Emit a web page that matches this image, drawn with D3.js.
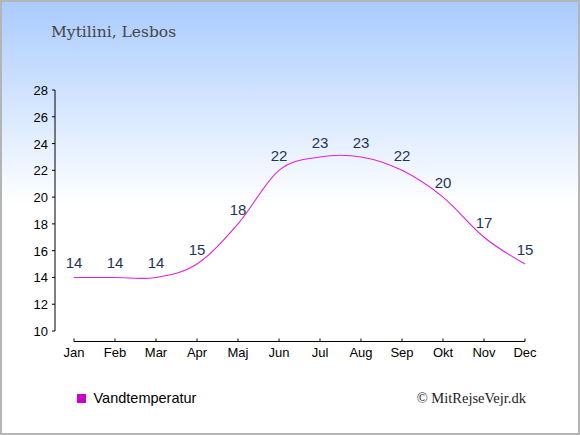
<!DOCTYPE html>
<html><head><meta charset="utf-8">
<script src="https://cdn.jsdelivr.net/npm/d3@7"></script>
<style>html,body{margin:0;padding:0;background:#fff;}svg{display:block;}</style>
</head><body>
<script>
const months = ["Jan","Feb","Mar","Apr","Maj","Jun","Jul","Aug","Sep","Okt","Nov","Dec"];
const waterTemp = [14,14,14,15,18,22,23,23,22,20,17,15];
const yTicks = [10,12,14,16,18,20,22,24,26,28];
const title = "Mytilini, Lesbos";
const legendLabel = "Vandtemperatur";
const credit = "© MitRejseVejr.dk";

const W = 580, H = 435;
const svg = d3.select("body").append("svg").attr("width", W).attr("height", H);
const defs = svg.append("defs");
const grad = defs.append("linearGradient").attr("id","bg").attr("x1",0).attr("y1",0).attr("x2",0).attr("y2",1);
grad.append("stop").attr("offset","0%").attr("stop-color","#a9cbff");
grad.append("stop").attr("offset","47%").attr("stop-color","#ffffff");
grad.append("stop").attr("offset","100%").attr("stop-color","#ffffff");
svg.append("rect").attr("x",0).attr("y",0).attr("width",W).attr("height",H).attr("fill","url(#bg)");
svg.append("rect").attr("x",1).attr("y",1).attr("width",W-2).attr("height",H-2).attr("fill","none").attr("stroke","#b4b4b4").attr("stroke-width",2);

svg.append("text").attr("x",51).attr("y",37).text(title)
  .attr("font-family","'DejaVu Serif', serif").attr("font-size",15.5).attr("fill","#444");

const x = d3.scalePoint().domain(months).range([74,525]);
const y = d3.scaleLinear().domain([10,28]).range([331,90]);

const sans = "Arial, 'Liberation Sans', sans-serif";

// y axis
const ya = svg.append("g").attr("transform","translate(55,0)");
ya.append("line").attr("y1",y(28)).attr("y2",y(10)).attr("stroke","#000");
yTicks.forEach(t=>{
  ya.append("line").attr("x1",-3).attr("x2",0).attr("y1",y(t)).attr("y2",y(t)).attr("stroke","#000");
  ya.append("text").attr("x",-7).attr("y",y(t)+5).attr("text-anchor","end").text(t)
    .attr("font-family",sans).attr("font-size",13).attr("fill","#000");
});

// x axis
const xa = svg.append("g").attr("transform","translate(0,341.5)");
xa.append("line").attr("x1",x(months[0])).attr("x2",x(months[11])).attr("stroke","#000");
months.forEach(m=>{
  xa.append("line").attr("x1",x(m)).attr("x2",x(m)).attr("y1",-3).attr("y2",0).attr("stroke","#000");
  xa.append("text").attr("x",x(m)).attr("y",15.5).attr("text-anchor","middle").text(m)
    .attr("font-family",sans).attr("font-size",13).attr("fill","#000");
});

const line = d3.line().x((d,i)=>x(months[i])).y(d=>y(d)).curve(d3.curveCatmullRom.alpha(0));
svg.append("path").attr("d", line(waterTemp)).attr("fill","none").attr("stroke","#e020e0").attr("stroke-width",1.1);

svg.append("g").selectAll("text").data(waterTemp).join("text")
  .attr("x",(d,i)=>x(months[i])).attr("y",d=>y(d)-9).attr("text-anchor","middle").text(d=>d)
  .attr("font-family",sans).attr("font-size",15).attr("fill","#1d3557");

// legend
svg.append("rect").attr("x",77).attr("y",394).attr("width",9).attr("height",9).attr("fill","#cc00cc");
svg.append("text").attr("x",93.5).attr("y",403).text(legendLabel)
  .attr("font-family",sans).attr("font-size",14.5).attr("fill","#000");
svg.append("text").attr("x",526).attr("y",403).attr("text-anchor","end").text(credit)
  .attr("font-family","'Liberation Serif', 'Times New Roman', serif").attr("font-size",14.5).attr("fill","#222");
</script>
</body></html>
